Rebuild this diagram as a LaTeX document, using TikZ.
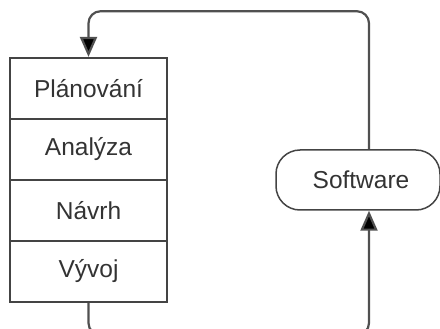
\documentclass[tikz,border=0pt]{standalone}
\usepackage{fontspec}
\setmainfont{Liberation Sans}
\usetikzlibrary{arrows.meta,calc}
\definecolor{linegray}{HTML}{505050}
\definecolor{boxgray}{HTML}{444444}
\definecolor{txtgray}{HTML}{333333}
\tikzset{
  phase/.style={draw=boxgray, line width=2.2pt, minimum width=157pt, minimum height=61pt,
    inner sep=0pt, font=\fontsize{24.5}{28}\selectfont, text=txtgray},
  product/.style={draw=boxgray, line width=1.5pt, rounded corners=24pt, minimum width=164pt,
    minimum height=60pt, inner sep=0pt, font=\fontsize{24.5}{28}\selectfont, text=txtgray},
  conn/.style={draw=linegray, line width=2.2pt, rounded corners=12pt,
    -{Triangle[length=20pt,width=17pt,fill=black]}},
}
\begin{document}
\begin{tikzpicture}[x=1pt,y=-1pt]
  \clip (0,0) rectangle (440,329);
  % stacked process phases
  \node[phase] (p1) at (88.5,88.5) {Plánování};
  \node[phase] (p2) at (88.5,149.5) {Analýza};
  \node[phase] (p3) at (88.5,210.5) {Návrh};
  \node[phase] (p4) at (88.5,271.5) {Vývoj};
  % resulting product
  \node[product] (sw) at (358,180) {\hspace*{6pt}Software};
  \coordinate (swtop) at ([xshift=11pt]sw.north);
  \coordinate (swbot) at ([xshift=11pt]sw.south);
  % feedback loops
  \draw[conn] (swtop) -- ++(0,-138) -| (p1.north);
  \draw[conn] (p4.south) -- ++(0,32) -| (swbot);
\end{tikzpicture}
\end{document}
